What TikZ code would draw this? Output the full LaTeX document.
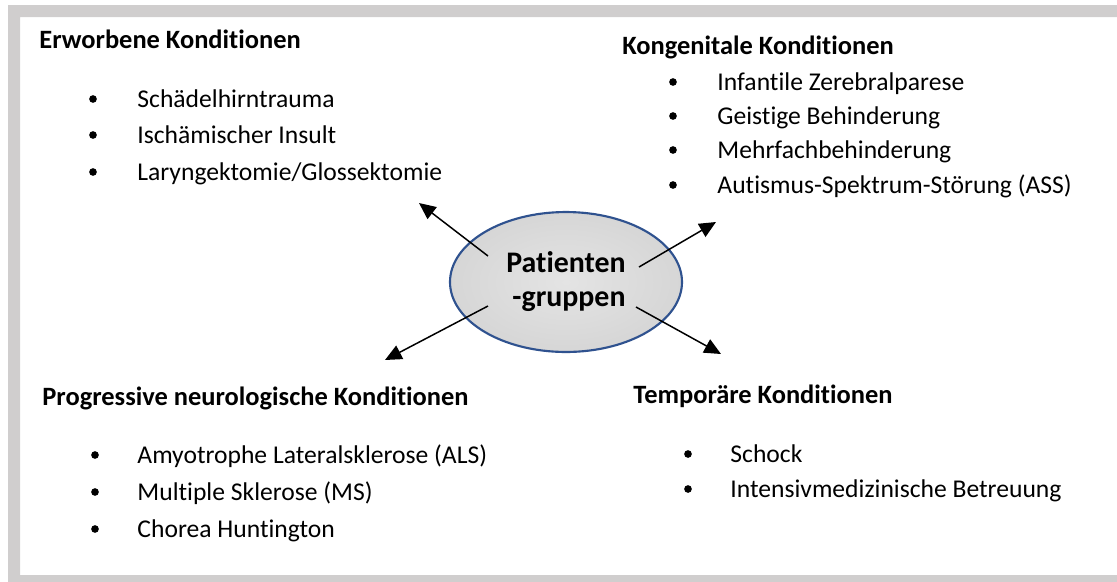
\documentclass[tikz,border=0pt]{standalone}
\usepackage{fontspec}
\setmainfont[Ligatures=NoCommon]{Carlito}
\usetikzlibrary{arrows.meta,shapes.geometric}
\definecolor{framegray}{RGB}{208,206,206}
\definecolor{ellborder}{RGB}{47,82,143}
\definecolor{shin}{RGB}{228,228,228}
\definecolor{shmid}{RGB}{214,214,214}
\definecolor{shmidb}{RGB}{185,185,185}
\definecolor{shout}{RGB}{135,135,135}
\pgfdeclareradialshading{ellshade}{\pgfpoint{0bp}{0bp}}{color(0bp)=(shin); color(25bp)=(shmid); color(40bp)=(shmidb); color(50bp)=(shout); color(75bp)=(shout)}
\begin{document}
\begin{tikzpicture}[x=0.46875pt,y=-0.46875pt,
  head/.style={font=\fontsize{12.4}{14}\selectfont\bfseries, anchor=base west, inner sep=0pt},
  item/.style={font=\fontsize{12}{14}\selectfont, anchor=base west, inner sep=0pt},
  bul/.style={circle, fill=black, inner sep=0pt, minimum size=3.6pt},
  centertxt/.style={font=\fontsize{14}{16}\selectfont\bfseries, anchor=base, inner sep=0pt},
  arr/.style={line width=0.7pt, -{Triangle[length=7.8pt,width=7pt]}}]
\useasboundingbox (0,0) rectangle (1117,581);
% frame
\begin{scope}
\clip (0,0) rectangle (1117,581);
\fill[framegray, even odd rule] (8,5) rectangle (1140,600) (20,17) rectangle (1140,575);
\end{scope}
% central ellipse
\node[ellipse, draw=ellborder, line width=1pt, shading=ellshade, minimum width=108.75pt, minimum height=65.6pt, inner sep=0pt] (ell) at (566,282) {};
\node[centertxt] (lblA) at (566,272) {Patienten};
\node[centertxt] (lblB) at (569,306) {-gruppen};
% arrows
\coordinate (nwS) at (488,256); \coordinate (nwE) at (419,203);
\coordinate (neS) at (639,267); \coordinate (neE) at (716,222);
\coordinate (swS) at (488,306); \coordinate (swE) at (385,360);
\coordinate (seS) at (636,307); \coordinate (seE) at (721,354);
\draw[arr] (nwS) -- (nwE);
\draw[arr] (neS) -- (neE);
\draw[arr] (swS) -- (swE);
\draw[arr] (seS) -- (seE);
% Erworbene
\node[head] (h1) at (39,48) {Erworbene Konditionen};
\node[bul] (b11) at (93,99) {}; \node[item] (i11) at (137,107) {Schädelhirntrauma};
\node[bul] (b12) at (93,135) {}; \node[item] (i12) at (137,143) {Ischämischer Insult};
\node[bul] (b13) at (93,172) {}; \node[item] (i13) at (137,180) {Laryngektomie/Glossektomie};
% Kongenitale
\node[head] (h2) at (622,54) {Kongenitale Konditionen};
\node[bul] (b21) at (673,82) {}; \node[item] (i21) at (717,90) {Infantile Zerebralparese};
\node[bul] (b22) at (673,116) {}; \node[item] (i22) at (717,124) {Geistige Behinderung};
\node[bul] (b23) at (673,150) {}; \node[item] (i23) at (717,158) {Mehrfachbehinderung};
\node[bul] (b24) at (673,185) {}; \node[item] (i24) at (717,193) {Autismus-Spektrum-Störung (ASS)};
% Progressive
\node[head] (h3) at (42,405) {Progressive neurologische Konditionen};
\node[bul] (b31) at (95,455) {}; \node[item] (i31) at (137,463) {Amyotrophe Lateralsklerose (ALS)};
\node[bul] (b32) at (95,492) {}; \node[item] (i32) at (137,500) {Multiple Sklerose (MS)};
\node[bul] (b33) at (95,529) {}; \node[item] (i33) at (137,537) {Chorea Huntington};
% Temporaere
\node[head] (h4) at (633,403) {Temporäre Konditionen};
\node[bul] (b41) at (688,454) {}; \node[item] (i41) at (730,462) {Schock};
\node[bul] (b42) at (688,489) {}; \node[item] (i42) at (730,497) {Intensivmedizinische Betreuung};
\end{tikzpicture}
\end{document}
